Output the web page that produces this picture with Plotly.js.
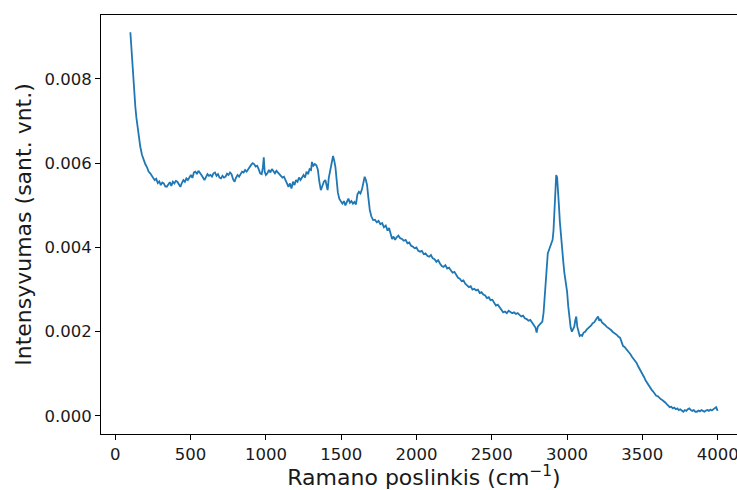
<!DOCTYPE html>
<html>
<head>
<meta charset="utf-8">
<script src="https://cdn.plot.ly/plotly-3.0.1.min.js"></script>
<style>
html,body{margin:0;padding:0;overflow:hidden;background:#fff;width:737px;height:490px;}
#chart{width:760px;height:490px;}
</style>
</head>
<body>
<div id="chart"></div>
<script>
// Raman shift (cm^-1)
const ramanShift = [
100,105,111,116,121,127,133,140,148,157,166,177,188,199,210,221,232,242,252,262,272,282,292,302,312,322,332,342,352,362,372,382,392,402,412,422,432,442,452,462,472,482,492,502,512,522,532,542,552,562,572,582,592,602,612,622,632,642,652,662,672,682,692,702,712,722,732,742,752,762,772,782,792,802,812,822,832,842,852,862,872,882,892,902,912,922,932,942,952,962,972,980,986,992,
1000,1010,1020,1030,1040,1050,1060,1070,1080,1090,1100,1110,1120,1130,1140,1150,1160,1170,1180,1190,1200,1210,1220,1230,1240,1250,1260,1270,1280,1290,1300,1306,1315,1325,1335,1345,1355,1365,1375,1385,1395,1403,1410,1418,1428,1438,1446,1454,1462,1470,1478,1488,1498,1508,1518,1528,1538,1548,1558,1568,1578,1588,1598,1608,1618,1628,1638,1648,1656,1664,1672,1680,1690,1700,1712,1724,1736,1748,1760,1772,1784,1796,1808,1818,1828,1838,1848,1858,1868,1880,1892,1904,1916,1928,1940,1952,1964,1976,1988,
2000,2012,2024,2036,2048,2060,2072,2084,2096,2108,2120,2132,2144,2156,2168,2180,2192,2204,2216,2228,2240,2252,2264,2276,2288,2300,2312,2324,2336,2348,2360,2372,2384,2396,2408,2420,2432,2444,2456,2468,2480,2492,2504,2516,2528,2540,2552,2564,2576,2588,2600,2612,2624,2636,2648,2660,2672,2684,2696,2708,2720,2732,2744,2756,2768,2780,2790,2798,2806,2816,2826,2836,2844,2852,2860,2866,2872,2880,2888,2896,2904,2910,2916,2922,2928,2934,2940,2946,2952,2958,2966,2974,2982,2990,
3000,3008,3016,3024,3032,3040,3048,3054,3061,3068,3076,3084,3092,3100,3110,3120,3130,3140,3150,3160,3170,3180,3190,3200,3206,3214,3222,3232,3242,3252,3262,3272,3282,3292,3302,3312,3322,3332,3342,3352,3362,3372,3382,3392,3402,3412,3422,3432,3442,3452,3462,3472,3482,3492,3502,3512,3522,3532,3542,3552,3562,3572,3582,3592,3602,3612,3622,3632,3642,3652,3662,3672,3682,3692,3702,3712,3722,3732,3742,3752,3762,3772,3782,3792,3802,3812,3822,3832,3842,3852,3862,3872,3882,3892,3902,3912,3922,3932,3942,3952,3962,3972,3982,3990,4000
];
// Intensity (arb. units)
const intensity = [
0.00911,0.00880,0.00861,0.00830,0.00805,0.00770,0.00734,0.00708,0.00686,0.00660,0.00639,0.00620,0.00607,0.00598,0.00591,0.00580,0.00576,0.00569,0.00565,0.00560,0.00563,0.00553,0.00557,0.00548,0.00554,0.00552,0.00545,0.00544,0.00550,0.00555,0.00546,0.00556,0.00552,0.00558,0.00556,0.00550,0.00544,0.00553,0.00560,0.00556,0.00564,0.00560,0.00568,0.00572,0.00565,0.00578,0.00580,0.00574,0.00582,0.00578,0.00572,0.00566,0.00560,0.00567,0.00574,0.00570,0.00572,0.00568,0.00576,0.00578,0.00570,0.00574,0.00566,0.00564,0.00570,0.00566,0.00568,0.00575,0.00572,0.00578,0.00574,0.00562,0.00556,0.00566,0.00572,0.00568,0.00576,0.00580,0.00578,0.00584,0.00580,0.00586,0.00590,0.00596,0.00600,0.00598,0.00592,0.00594,0.00586,0.00576,0.00574,0.00590,0.00614,0.00580,
0.00572,0.00576,0.00584,0.00578,0.00586,0.00582,0.00576,0.00582,0.00578,0.00574,0.00570,0.00566,0.00568,0.00558,0.00552,0.00544,0.00552,0.00540,0.00556,0.00548,0.00560,0.00556,0.00566,0.00560,0.00568,0.00572,0.00566,0.00580,0.00574,0.00586,0.00584,0.00603,0.00594,0.00598,0.00595,0.00585,0.00556,0.00536,0.00546,0.00556,0.00560,0.00548,0.00536,0.00566,0.00584,0.00605,0.00617,0.00606,0.00590,0.00560,0.00530,0.00515,0.00508,0.00504,0.00510,0.00500,0.00508,0.00516,0.00506,0.00510,0.00504,0.00508,0.00502,0.00526,0.00532,0.00528,0.00538,0.00556,0.00568,0.00560,0.00548,0.00520,0.00489,0.00474,0.00465,0.00466,0.00460,0.00463,0.00455,0.00458,0.00448,0.00452,0.00440,0.00446,0.00430,0.00420,0.00426,0.00418,0.00424,0.00428,0.00422,0.00420,0.00416,0.00418,0.00410,0.00412,0.00404,0.00402,0.00398,
0.00400,0.00392,0.00390,0.00392,0.00384,0.00386,0.00380,0.00378,0.00382,0.00374,0.00372,0.00366,0.00370,0.00362,0.00356,0.00354,0.00358,0.00350,0.00352,0.00346,0.00340,0.00342,0.00336,0.00328,0.00326,0.00320,0.00322,0.00314,0.00310,0.00306,0.00308,0.00300,0.00302,0.00298,0.00300,0.00292,0.00294,0.00288,0.00286,0.00280,0.00282,0.00275,0.00276,0.00268,0.00262,0.00264,0.00258,0.00250,0.00246,0.00248,0.00244,0.00250,0.00246,0.00244,0.00246,0.00242,0.00244,0.00240,0.00236,0.00238,0.00232,0.00230,0.00226,0.00228,0.00222,0.00218,0.00210,0.00198,0.00212,0.00216,0.00220,0.00224,0.00245,0.00280,0.00322,0.00360,0.00386,0.00394,0.00402,0.00410,0.00418,0.00440,0.00480,0.00530,0.00572,0.00566,0.00540,0.00500,0.00462,0.00430,0.00400,0.00370,0.00340,0.00318,
0.00296,0.00260,0.00232,0.00210,0.00200,0.00208,0.00212,0.00226,0.00236,0.00212,0.00198,0.00190,0.00192,0.00190,0.00198,0.00200,0.00205,0.00208,0.00212,0.00215,0.00220,0.00222,0.00228,0.00232,0.00236,0.00226,0.00230,0.00222,0.00220,0.00216,0.00212,0.00210,0.00206,0.00204,0.00200,0.00198,0.00194,0.00192,0.00188,0.00186,0.00176,0.00166,0.00164,0.00160,0.00156,0.00150,0.00146,0.00140,0.00136,0.00130,0.00126,0.00118,0.00112,0.00106,0.00100,0.00092,0.00084,0.00078,0.00072,0.00068,0.00062,0.00058,0.00052,0.00048,0.00047,0.00042,0.00040,0.00038,0.00036,0.00032,0.00028,0.00024,0.00021,0.00022,0.00018,0.00020,0.00016,0.00018,0.00014,0.00016,0.00012,0.00010,0.00014,0.00012,0.00016,0.00018,0.00014,0.00012,0.00014,0.00010,0.00010,0.00013,0.00011,0.00014,0.00012,0.00010,0.00013,0.00014,0.00012,0.00015,0.00013,0.00016,0.00018,0.00021,0.00012
];
const xTickVals = [0,500,1000,1500,2000,2500,3000,3500,4000];
const yTickVals = [0,0.002,0.004,0.006,0.008];
const yTickText = ["0.000","0.002","0.004","0.006","0.008"];

const fam = 'DejaVu Sans, sans-serif';
const trace = {
  x: ramanShift, y: intensity, type: 'scatter', mode: 'lines',
  line: {color: '#1f77b4', width: 1.8}, hoverinfo: 'skip'
};
const layout = {
  width: 760, height: 490,
  margin: {l: 101, r: 13, t: 15, b: 56},
  paper_bgcolor: '#fff', plot_bgcolor: '#fff',
  showlegend: false,
  font: {family: fam, size: 16.5, color: '#1a1a1a'},
  xaxis: {
    range: [-95, 4195], tickvals: xTickVals, ticktext: xTickVals.map(String),
    ticks: 'outside', ticklen: 5, tickwidth: 1, tickcolor: '#000',
    showline: true, linecolor: '#000', linewidth: 1, mirror: true,
    showgrid: false, zeroline: false,
    tickfont: {family: fam, size: 16.5, color: '#1a1a1a'},
    title: {text: 'Ramano poslinkis (cm<sup>−1</sup>)', font: {family: fam, size: 22, color: '#1a1a1a'}, standoff: 4}
  },
  yaxis: {
    range: [-0.000428, 0.009518], tickvals: yTickVals, ticktext: yTickText,
    ticks: 'outside', ticklen: 5, tickwidth: 1, tickcolor: '#000',
    showline: true, linecolor: '#000', linewidth: 1, mirror: true,
    showgrid: false, zeroline: false,
    tickfont: {family: fam, size: 16.5, color: '#1a1a1a'},
    title: {text: 'Intensyvumas (sant. vnt.)', font: {family: fam, size: 22, color: '#1a1a1a'}, standoff: 6}
  }
};
Plotly.newPlot('chart', [trace], layout, {staticPlot: true, displayModeBar: false});
</script>
</body>
</html>
